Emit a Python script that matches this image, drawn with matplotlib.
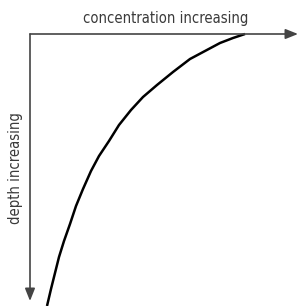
import matplotlib
matplotlib.use("Agg")
import matplotlib.pyplot as plt

# curve: concentration (x) against depth (y, downwards)
concentration = [17, 21, 25, 29, 34, 40, 46, 53, 61, 69, 79, 89, 101, 113,
                 127, 143, 160, 175, 190, 203, 215]
depth = [272, 255, 239, 223, 207, 190, 172, 155, 137, 122, 107, 91, 76, 63,
         51, 38, 25, 17, 9, 4, 0]

x_label = "concentration increasing"
y_label = "depth increasing"

fig = plt.figure(figsize=(3.01, 3.06), dpi=100)
ax = fig.add_axes([0, 0, 1, 1])
ax.set_xlim(-30, 271)
ax.set_ylim(272, -34)
ax.axis("off")

arrow = dict(arrowstyle="-|>,head_length=0.75,head_width=0.3", color="#444444",
             lw=1.2, shrinkA=0, shrinkB=0)
ax.annotate("", xy=(268, 0), xytext=(0, 0), arrowprops=arrow)
ax.annotate("", xy=(0, 267), xytext=(0, 0), arrowprops=arrow)

ax.plot(concentration, depth, color="black", lw=1.8, solid_capstyle="butt",
        solid_joinstyle="round")

fam = ["Liberation Sans Narrow", "DejaVu Sans"]
ax.text(136, -15, x_label, ha="center", va="center", fontsize=10.6,
        family=fam, fontstretch="condensed", color="#3a3a3a")
ax.text(-14, 134, y_label, ha="center", va="center", rotation=90,
        fontsize=10.6, family=fam, fontstretch="condensed", color="#3a3a3a")

fig.savefig("out.png", dpi=100)
